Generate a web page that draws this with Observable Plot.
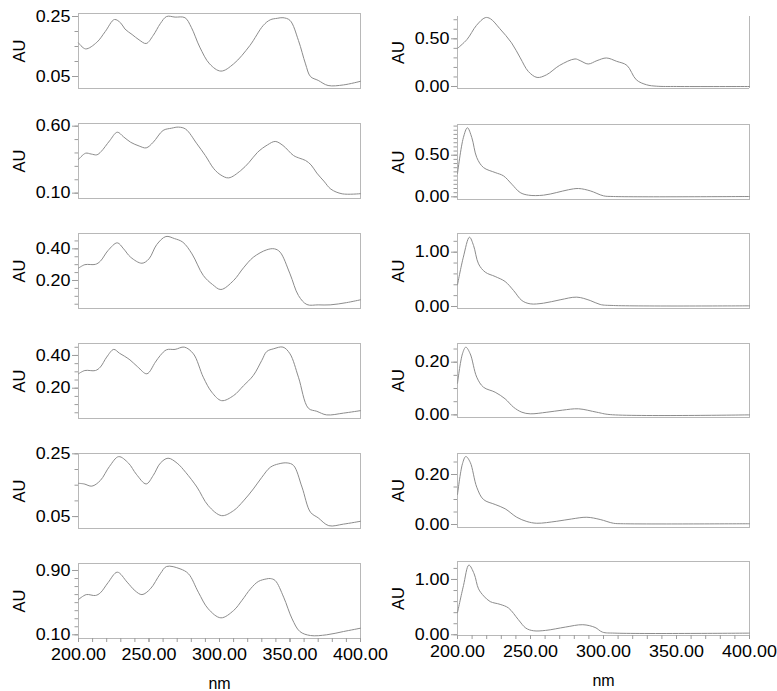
<!DOCTYPE html>
<html><head><meta charset="utf-8">
<script src="https://cdn.jsdelivr.net/npm/d3@7"></script>
<script src="https://cdn.jsdelivr.net/npm/@observablehq/plot@0.6"></script>
<style>
body{margin:0;background:#fff}
#c{position:relative;width:777px;height:691px;overflow:hidden;background:#fff}
</style>
</head><body><div id="c"></div>
<script>
// ---- data: wavelength (nm) and absorbance (AU) per spectrum ----
const wlL1 = [200,205,213,219,225.5,230,233,238,243,248,253,258,262.5,268.5,275.5,280,286,293,301,310,321.5,331,336,341,345,350,356,361,364.5,370,377,388,400];
const auL1 = [0.162,0.142,0.164,0.200,0.240,0.228,0.208,0.190,0.172,0.160,0.187,0.226,0.250,0.248,0.246,0.214,0.148,0.092,0.068,0.092,0.153,0.220,0.239,0.244,0.246,0.237,0.170,0.092,0.050,0.037,0.020,0.022,0.034];
const wlL2 = [200,205,209,213,216,222,227.5,232,237,243,248,253,260,266,271,276,284,290,296,301,306.5,315,321,327,334,339.5,345,352.5,357,361,365,369,374,379,387,400];
const auL2 = [0.352,0.398,0.392,0.386,0.41,0.49,0.555,0.52,0.48,0.452,0.438,0.48,0.568,0.585,0.593,0.578,0.468,0.38,0.282,0.235,0.214,0.268,0.33,0.405,0.46,0.486,0.456,0.381,0.36,0.344,0.31,0.25,0.19,0.13,0.095,0.096];
const wlL3 = [200,204.5,212,215.5,221,227.5,232,237,245,250,255.5,262,268,274,280.5,288.5,295,301,310,317,324,333.5,339,343,350,356,362,370,378.5,390,400];
const auL3 = [0.278,0.30,0.302,0.322,0.39,0.438,0.40,0.347,0.309,0.337,0.427,0.478,0.465,0.442,0.368,0.232,0.175,0.143,0.20,0.28,0.347,0.394,0.40,0.379,0.242,0.105,0.048,0.046,0.046,0.06,0.078];
const wlL4 = [200,204.5,212,215.5,220,225,229,232.5,236.5,242,248.5,254.5,258,262.5,268.5,275,281.5,288.5,294.5,301.5,310,317,324,330,333.5,338.5,345,350,356,363,369,376,388,400];
const auL4 = [0.288,0.308,0.308,0.329,0.39,0.437,0.414,0.396,0.373,0.33,0.288,0.359,0.40,0.435,0.437,0.451,0.41,0.267,0.176,0.124,0.155,0.215,0.278,0.37,0.424,0.441,0.451,0.41,0.267,0.078,0.059,0.037,0.048,0.063];
const wlL5 = [200,204,209.5,215.5,222,228.5,235.5,241,248,253,258,263.5,270,276,284,292,301.5,310,317,324,330,336,342,348,352.5,358.5,364.5,370,377.5,388,400];
const auL5 = [0.156,0.154,0.147,0.165,0.21,0.241,0.22,0.185,0.154,0.181,0.22,0.236,0.22,0.191,0.144,0.085,0.053,0.069,0.10,0.138,0.175,0.207,0.218,0.221,0.213,0.144,0.064,0.046,0.021,0.026,0.035];
const wlL6 = [200,205.5,212,215.5,221,227.5,234.5,240,245,251,258,262.5,272,278,285,292,301,310,316,322,327.5,333.5,336,339.5,345.5,351.5,357,364.5,376,388,400];
const auL6 = [0.539,0.60,0.589,0.622,0.75,0.879,0.755,0.65,0.60,0.672,0.859,0.95,0.921,0.859,0.63,0.423,0.311,0.402,0.53,0.672,0.763,0.796,0.80,0.775,0.568,0.298,0.141,0.091,0.10,0.141,0.182];
const wlR1 = [200,206.5,213,219,222.5,229,237,243,248.5,254.5,261,270,280.5,284,289.5,295.5,302,309,316,322.5,329.5,336.5,350,400];
const auR1 = [0.40,0.493,0.641,0.722,0.711,0.606,0.458,0.30,0.158,0.095,0.123,0.222,0.289,0.271,0.236,0.271,0.299,0.264,0.222,0.07,0.018,0.003,0.0,0.0];
const wlR2 = [200,204,206.8,209.8,213.2,217.8,225.8,231.5,237.2,242.9,248.6,258.9,268,276,282.9,290.9,300,306.8,400];
const auR2 = [0.28,0.71,0.83,0.712,0.472,0.352,0.292,0.252,0.152,0.052,0.02,0.02,0.052,0.085,0.10,0.072,0.012,0.004,0.004];
const wlR3 = [200,204,208.2,211,214.4,219,225.8,232.6,238.4,244.1,249.8,258.9,270.3,281.7,290.9,297.7,306.8,400];
const auR3 = [0.40,0.908,1.276,1.123,0.785,0.632,0.552,0.46,0.294,0.11,0.049,0.061,0.123,0.172,0.11,0.037,0.018,0.012];
const wlR4 = [200,203.4,205.7,208.7,213.2,217.8,225.8,232.6,238.4,244.1,249.8,261.2,272,282.9,295.4,304.6,400];
const auR4 = [0.12,0.232,0.257,0.232,0.143,0.105,0.086,0.061,0.029,0.010,0.004,0.010,0.018,0.023,0.010,0.001,0.0];
const wlR5 = [200,203.4,205.7,208.7,213.2,217.8,225.8,232.6,240.6,247.5,254.3,268,278,288.6,297.7,306.8,313.7,400];
const auR5 = [0.12,0.243,0.272,0.249,0.149,0.10,0.08,0.063,0.029,0.012,0.005,0.013,0.022,0.029,0.02,0.005,0.003,0.003];
const wlR6 = [200,204.1,207.8,211.4,214.4,218,222.4,229.2,234.9,241.7,246.8,251.9,260.3,273.9,285.8,294.2,299.3,307.8,400];
const auR6 = [0.40,0.89,1.26,1.102,0.831,0.70,0.60,0.55,0.485,0.273,0.121,0.073,0.079,0.139,0.182,0.133,0.048,0.03,0.03];

// y domains (value at frame bottom, frame top)
const domL = [[0.01,0.26],[0.06,0.62],[0.023,0.497],[0.015,0.473],[0.012,0.251],[0.054,0.987]];
const domR = [[-0.021,0.734],[-0.032,0.869],[-0.037,1.344],[-0.010,0.271],[-0.012,0.284],[-0.013,1.325]];
// labelled y ticks and minor tick step
const labL = [[0.05,0.25],[0.10,0.60],[0.20,0.40],[0.20,0.40],[0.05,0.25],[0.10,0.90]];
const labR = [[0.00,0.50],[0.00,0.50],[0.00,1.00],[0.00,0.20],[0.00,0.20],[0.00,1.00]];
const stepL = [0.05,0.1,0.05,0.05,0.05,0.1];
const stepR = [0.1,0.05,0.2,0.05,0.05,0.2];
// x axis
const xDomain = [200,400];
const xLabelTicks = [200,250,300,350,400];
const xMinorStep = 10;
const yTitle = "AU";
const xTitle = "nm";

const spectraL = [[wlL1,auL1],[wlL2,auL2],[wlL3,auL3],[wlL4,auL4],[wlL5,auL5],[wlL6,auL6]];
const spectraR = [[wlR1,auR1],[wlR2,auR2],[wlR3,auR3],[wlR4,auR4],[wlR5,auR5],[wlR6,auR6]];

// ---- layout (pixels) ----
const colX = [[78,360],[457,749]];
const frameL = [[13,88],[123,198],[233,308],[343,418],[453,528],[563,638]];
const frameR = [[16,88],[124,199],[233,308],[343,417],[453,527],[561,635]];
const ML = 80, MT = 10;
const FRAME = "#b8b8b8", LINE = "#8c8c8c", TICK = "#9c9c9c";

const container = document.getElementById("c");

function stretch(svg){
  svg.querySelectorAll('g[aria-label="y-axis tick label"] text, g[aria-label="x-axis tick label"] text').forEach(t=>{
    let tr = t.getAttribute("transform");
    if (!tr) {
      const x = t.getAttribute("x")||0, y = t.getAttribute("y")||0;
      t.removeAttribute("x"); t.removeAttribute("y");
      tr = `translate(${x},${y})`;
    }
    t.setAttribute("transform", tr + " scale(1.12,1)");
  });
}

function panel(col,row){
  const [wl,au] = (col===0?spectraL:spectraR)[row];
  const [lo,hi] = (col===0?domL:domR)[row];
  const labs = (col===0?labL:labR)[row];
  const step = (col===0?stepL:stepR)[row];
  const [ft,fb] = (col===0?frameL:frameR)[row];
  const [x0,x1] = colX[col];
  const bottom = row===5;
  const MB = bottom ? 55 : 10;
  const MR = col===1 ? 28 : 10;
  const data = wl.map((w,i)=>({w, a: au[i]}));
  const minor = d3.range(Math.ceil(lo/step-1e-9), Math.floor(hi/step+1e-9)+1).map(k=>+(k*step).toFixed(4));
  const marks = [];
  if (col===1 && row===0) {
    marks.push(Plot.ruleX(xDomain,{stroke:FRAME}));
    marks.push(Plot.ruleY([lo],{stroke:FRAME}));
  } else {
    marks.push(Plot.frame({stroke:FRAME}));
  }
  marks.push(Plot.axisY(minor,{tickSize:3.5, tickFormat:()=> "", stroke:TICK, label:null}));
  marks.push(Plot.axisY(labs,{tickSize:6, tickPadding:2, tickFormat:d3.format(".2f"), stroke:TICK, fill:"#000", label:null}));
  if (bottom) {
    marks.push(Plot.axisX(d3.range(xDomain[0], xDomain[1]+1, xMinorStep),{tickSize:4, tickFormat:()=> "", stroke:TICK, label:null}));
    marks.push(Plot.axisX(xLabelTicks,{tickSize:4, tickPadding:6, tickFormat:d3.format(".2f"), stroke:TICK, fill:"#000", label:null}));
    marks.push(Plot.text([xTitle],{text:d=>d, frameAnchor:"bottom", textAnchor:"middle", lineAnchor:"middle", dy:45, fontSize:16, fill:"#000"}));
  }
  marks.push(Plot.text([yTitle],{text:d=>d, frameAnchor:"left", textAnchor:"middle", lineAnchor:"middle", rotate:-90, dx:-59, fontSize:16.5, fill:"#000"}));
  marks.push(Plot.line(data,{x:"w", y:"a", curve:"catmull-rom", stroke:LINE, strokeWidth:1}));
  const svg = Plot.plot({
    width: (x1-x0)+ML+MR,
    height: (fb-ft)+MT+MB,
    marginLeft: ML, marginRight: MR, marginTop: MT, marginBottom: MB,
    x: {domain: xDomain, axis: bottom ? undefined : null, label:null},
    y: {domain: [lo,hi], label:null},
    style: {background:"transparent", overflow:"visible", fontFamily:"'Liberation Sans', Arial, sans-serif", fontSize:"16px", color:"#000"},
    marks
  });
  stretch(svg);
  svg.style.position = "absolute";
  svg.style.left = (x0-ML)+"px";
  svg.style.top = (ft-MT)+"px";
  svg.style.maxWidth = "none";
  container.appendChild(svg);
}
for (let r=0;r<6;r++){ panel(0,r); panel(1,r); }
</script></body></html>
